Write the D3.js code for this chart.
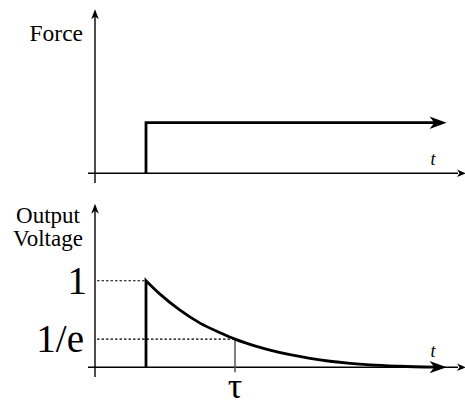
<!DOCTYPE html>
<html><head><meta charset="utf-8">
<script src="https://cdn.jsdelivr.net/npm/d3@7"></script>
<style>html,body{margin:0;padding:0;background:#fff;}svg{display:block;} text{font-family:"Liberation Serif","DejaVu Serif","Times New Roman",serif;}</style>
</head><body>
<script>
// ---- data (time in units of tau, values normalised) ----
const forceTime = [0, 0, 3.36];
const forceValue = [0, 1, 1];
const voltageTime = [0, 0.157, 0.382, 0.607, 0.831, 1.0, 1.169, 1.281, 1.393, 1.618, 1.843, 2.067, 2.292, 2.517, 2.854, 3.36];
const voltageValue = [1.0, 0.845, 0.660, 0.510, 0.400, 0.325, 0.265, 0.230, 0.198, 0.145, 0.103, 0.070, 0.045, 0.027, 0.012, 0.002];
const voltageTickValues = [1, 0.325];
const voltageTickLabels = ["1", "1/e"];
const tauValue = [1];
const tauLabel = ["τ"];
const timeLabel = "t";
const topLabel = ["Force"];
const bottomLabel = ["Output", "Voltage"];

const W = 465, H = 406;
const svg = d3.select("body").append("svg").attr("width", W).attr("height", H);

const x = d3.scaleLinear().domain([-0.573, 3.584]).range([95, 465]);
const yTop = d3.scaleLinear().domain([0, 1]).range([173.3, 122.7]);
const yBot = d3.scaleLinear().domain([0, 1]).range([367.3, 280.7]);

function arrowHead(g, tipX, tipY, dx, dy, L, Wd, fill) {
  const n = Math.hypot(dx, dy); const ux = dx / n, uy = dy / n; const px = -uy, py = ux;
  const bx = tipX - ux * L, by = tipY - uy * L;
  const nx = tipX - ux * L * 0.72, ny = tipY - uy * L * 0.72;
  g.append("path")
    .attr("d", `M${tipX},${tipY}L${bx + px * Wd},${by + py * Wd}L${nx},${ny}L${bx - px * Wd},${by - py * Wd}Z`)
    .attr("fill", fill).attr("stroke", "none");
}

function axes(yScale, yTopVal, yBottomPx) {
  const g = svg.append("g");
  const x0 = x(x.domain()[0]);
  const yTipPx = yScale(yTopVal);
  g.append("line").attr("x1", 88).attr("x2", 458).attr("y1", yScale(0)).attr("y2", yScale(0))
    .attr("stroke", "#000").attr("stroke-width", 1.4);
  arrowHead(g, 466, yScale(0), 1, 0, 9, 3.8, "#000");
  g.append("line").attr("x1", x0).attr("x2", x0).attr("y1", yBottomPx).attr("y2", yTipPx + 6)
    .attr("stroke", "#000").attr("stroke-width", 1.4);
  arrowHead(g, x0, yTipPx, 0, -1, 10, 3.8, "#000");
  return g;
}

// ---------- top panel ----------
const gTop = axes(yTop, 3.24, 183);
const fPts = forceTime.map((t, i) => [x(t), yTop(forceValue[i])]);
const fLast = fPts[fPts.length - 1];
const fLine = fPts.slice(); fLine[fLine.length - 1] = [fLast[0] - 10, fLast[1]];
gTop.append("path").attr("d", d3.line()(fLine)).attr("fill", "none").attr("stroke", "#000")
  .attr("stroke-width", 2.8).attr("stroke-linejoin", "miter");
arrowHead(gTop, fLast[0] + 1.5, fLast[1], 1, 0, 17, 6.2, "#000");
gTop.append("text").attr("x", 83).attr("y", 41).attr("text-anchor", "end")
  .attr("font-size", 23.5).text(topLabel[0]);
gTop.append("text").attr("x", 433).attr("y", 165).attr("text-anchor", "middle")
  .attr("font-style", "italic").attr("font-size", 18).text(timeLabel);

// ---------- bottom panel ----------
const gBot = axes(yBot, 1.89, 377);
voltageTickValues.forEach((v, i) => {
  const idx = voltageValue.indexOf(v);
  const xe = idx >= 0 ? x(voltageTime[idx]) : x(0);
  gBot.append("line").attr("x1", 97).attr("x2", xe).attr("y1", yBot(v)).attr("y2", yBot(v))
    .attr("stroke", "#000").attr("stroke-width", 1.1).attr("stroke-dasharray", "2.5,2");
  gBot.append("text").attr("x", i === 0 ? 87 : 84).attr("y", yBot(v) + 13).attr("text-anchor", "end")
    .attr("font-size", 39).text(voltageTickLabels[i]);
});
gBot.append("line").attr("x1", x(tauValue[0])).attr("x2", x(tauValue[0]))
  .attr("y1", yBot(voltageValue[voltageTime.indexOf(tauValue[0])])).attr("y2", yBot(0) + 5)
  .attr("stroke", "#555").attr("stroke-width", 1.5);
gBot.append("text").attr("x", x(tauValue[0])).attr("y", 398).attr("text-anchor", "middle")
  .attr("font-size", 36).text(tauLabel[0]);

const vPts = voltageTime.map((t, i) => [x(t), yBot(voltageValue[i])]);
const vLast = vPts[vPts.length - 1];
const vCurvePts = vPts.slice(); vCurvePts[vCurvePts.length - 1] = [vLast[0] - 10, vLast[1]];
const curveStr = d3.line().curve(d3.curveMonotoneX)(vCurvePts);
const stepStart = [x(voltageTime[0]), yBot(0)];
gBot.append("path").attr("d", `M${stepStart[0]},${stepStart[1]}L` + curveStr.slice(1))
  .attr("fill", "none").attr("stroke", "#000").attr("stroke-width", 2.8).attr("stroke-linejoin", "miter");
arrowHead(gBot, vLast[0] + 1.5, vLast[1], 1, 0, 17, 6.2, "#000");
gBot.append("text").attr("x", 433).attr("y", 357).attr("text-anchor", "middle")
  .attr("font-style", "italic").attr("font-size", 18).text(timeLabel);
bottomLabel.forEach((s, i) => {
  gBot.append("text").attr("x", 48).attr("y", 223 + i * 23).attr("text-anchor", "middle")
    .attr("font-size", 23).text(s);
});
</script>
</body></html>
